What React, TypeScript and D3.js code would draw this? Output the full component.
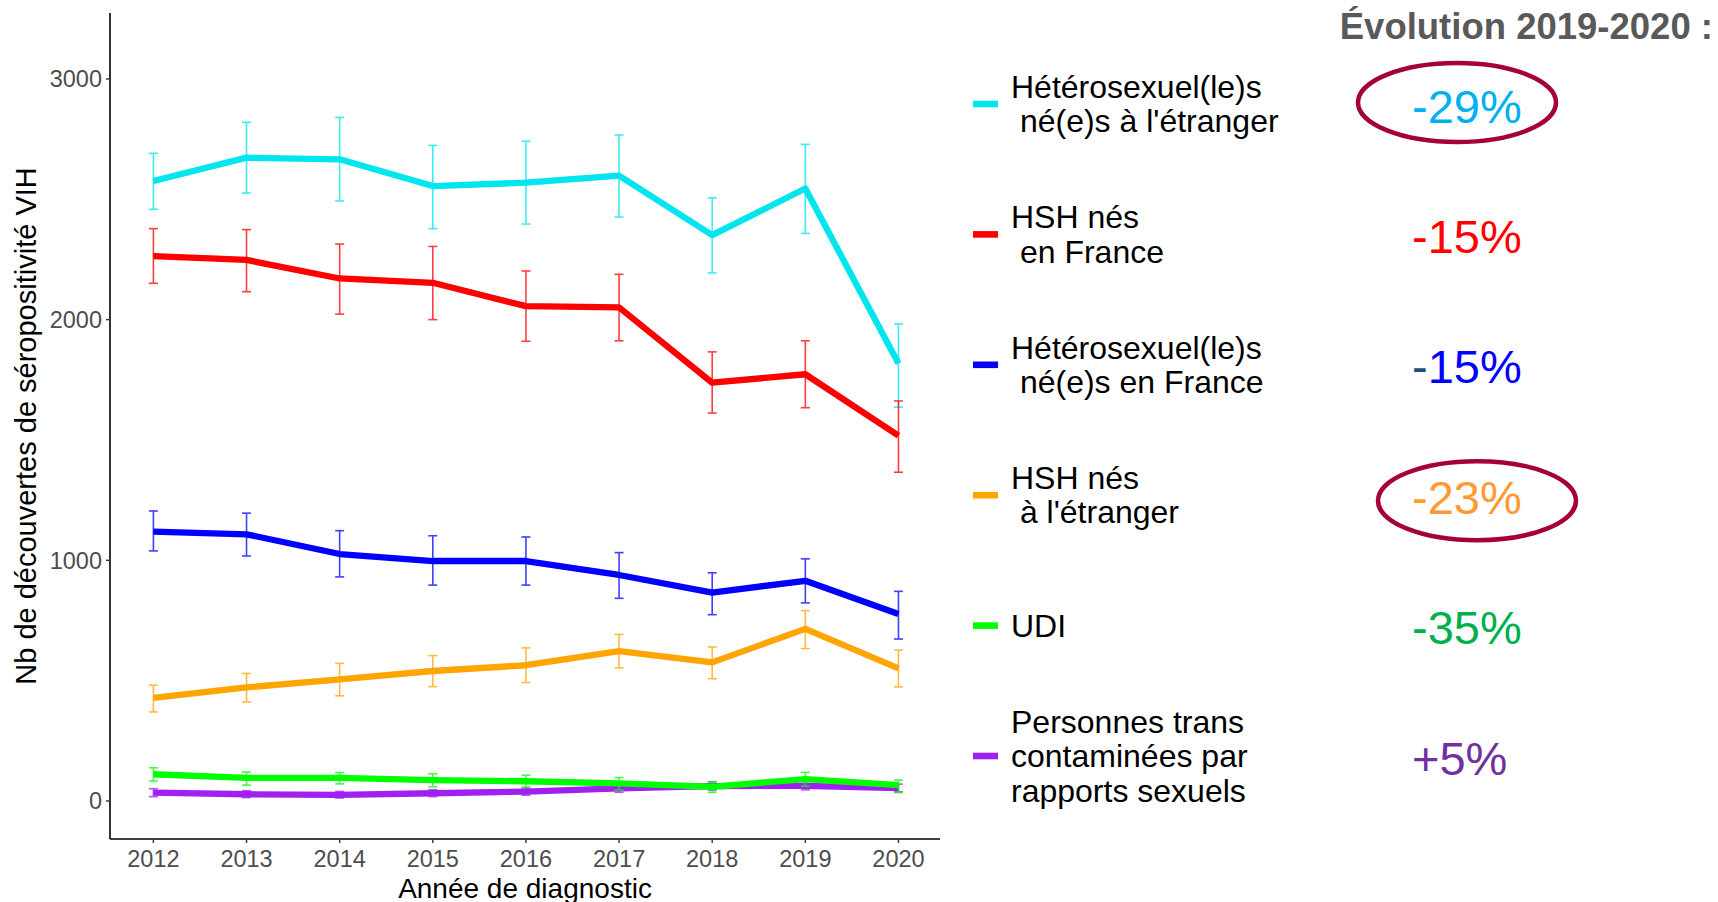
import React from "react";
import * as d3 from "d3";

// années de diagnostic
const years = [2012, 2013, 2014, 2015, 2016, 2017, 2018, 2019, 2020];

// nb de découvertes par groupe (valeur, borne basse, borne haute)
const heteroEtranger = [2576, 2673, 2666, 2555, 2569, 2598, 2351, 2545, 1818];
const heteroEtrangerLow = [2458, 2526, 2493, 2378, 2397, 2426, 2194, 2358, 1636];
const heteroEtrangerHigh = [2691, 2820, 2840, 2724, 2741, 2767, 2506, 2728, 1982];

const hshFrance = [2264, 2248, 2171, 2153, 2056, 2051, 1738, 1773, 1518];
const hshFranceLow = [2151, 2116, 2023, 2000, 1910, 1912, 1612, 1634, 1366];
const hshFranceHigh = [2378, 2374, 2314, 2304, 2202, 2188, 1866, 1912, 1662];

const heteroFrance = [1119, 1108, 1026, 997, 997, 939, 866, 915, 777];
const heteroFranceLow = [1039, 1018, 931, 897, 897, 842, 774, 823, 673];
const heteroFranceHigh = [1205, 1196, 1123, 1102, 1097, 1032, 948, 1006, 871];

const hshEtranger = [428, 472, 505, 540, 564, 623, 576, 715, 551];
const hshEtrangerLow = [370, 411, 437, 475, 492, 553, 508, 633, 474];
const hshEtrangerHigh = [481, 530, 572, 604, 636, 692, 640, 791, 627];

const udi = [111, 96, 96, 87, 82, 73, 59, 91, 66];
const udiLow = [83, 66, 71, 59, 57, 46, 36, 61, 35];
const udiHigh = [138, 120, 118, 113, 107, 97, 80, 119, 87];

const trans = [35, 28, 25, 32, 39, 52, 62, 63, 54];
const transLow = [18, 14, 12, 18, 24, 36, 45, 46, 38];
const transHigh = [51, 43, 40, 47, 55, 68, 80, 81, 70];

const yTicks = [0, 1000, 2000, 3000];

const legendLabels = [
  ["Hétérosexuel(le)s", " né(e)s à l'étranger"],
  ["HSH nés", " en France"],
  ["Hétérosexuel(le)s", " né(e)s en France"],
  ["HSH nés", " à l'étranger"],
  ["UDI"],
  ["Personnes trans", "contaminées par", "rapports sexuels"],
];
const lineColors = ["#00E5EE", "#FF0000", "#0000FF", "#FFA500", "#00FF00", "#A020F0"];
const evolution = ["-29%", "-15%", "-15%", "-23%", "-35%", "+5%"];
const evolutionColors = ["#00B0F0", "#FF0000", "#0000FF", "#FF9933", "#00B050", "#7030A0"];
const highlighted = [0, 3];

const series = [
  { v: heteroEtranger, lo: heteroEtrangerLow, hi: heteroEtrangerHigh, c: lineColors[0] },
  { v: hshFrance, lo: hshFranceLow, hi: hshFranceHigh, c: lineColors[1] },
  { v: heteroFrance, lo: heteroFranceLow, hi: heteroFranceHigh, c: lineColors[2] },
  { v: hshEtranger, lo: hshEtrangerLow, hi: hshEtrangerHigh, c: lineColors[3] },
  { v: trans, lo: transLow, hi: transHigh, c: lineColors[5] },
  { v: udi, lo: udiLow, hi: udiHigh, c: lineColors[4] },
];

const font = "'Liberation Sans', Arial, sans-serif";

export default function App() {
  const left = 110, right = 940, top = 13, bottom = 839;
  const x = d3.scaleLinear().domain([2011.534, 2020.446]).range([left, right]);
  const y = d3.scaleLinear().domain([-158, 3274]).range([bottom, top]);
  const line = d3.line<number>().x((d, i) => x(years[i])).y(d => y(d));
  const cap = 4.5;

  const keyY = d3.range(6).map(i => 104 + i * 130.4);

  return (
    <svg width={1718} height={902} style={{ position: "absolute", left: 0, top: 0, background: "#fff" }} fontFamily={font}>
      <rect width={1718} height={902} fill="#fff" />
      {/* séries */}
      {series.map((s, k) => (
        <g key={k}>
          <path d={line(s.v) || ""} fill="none" stroke={s.c} strokeWidth={6.3} strokeLinejoin="round" />
          <g stroke={s.c} strokeWidth={1.6} opacity={0.75}>
            {years.map((yr, i) => (
              <g key={yr}>
                <line x1={x(yr)} x2={x(yr)} y1={y(s.lo[i])} y2={y(s.hi[i])} />
                <line x1={x(yr) - cap} x2={x(yr) + cap} y1={y(s.lo[i])} y2={y(s.lo[i])} />
                <line x1={x(yr) - cap} x2={x(yr) + cap} y1={y(s.hi[i])} y2={y(s.hi[i])} />
              </g>
            ))}
          </g>
        </g>
      ))}

      {/* axes */}
      <line x1={left} x2={left} y1={top} y2={bottom} stroke="#000" strokeWidth={1.6} />
      <line x1={left} x2={right} y1={bottom} y2={bottom} stroke="#000" strokeWidth={1.6} />
      {yTicks.map(t => (
        <g key={t}>
          <line x1={left - 4} x2={left} y1={y(t)} y2={y(t)} stroke="#333" strokeWidth={1.4} />
          <text x={left - 8} y={y(t) + 8.5} textAnchor="end" fontSize={23.5} fill="#4D4D4D">{t}</text>
        </g>
      ))}
      {years.map(yr => (
        <g key={yr}>
          <line x1={x(yr)} x2={x(yr)} y1={bottom} y2={bottom + 4} stroke="#333" strokeWidth={1.4} />
          <text x={x(yr)} y={866.5} textAnchor="middle" fontSize={23.5} fill="#4D4D4D">{yr}</text>
        </g>
      ))}
      <text x={(left + right) / 2} y={897.5} textAnchor="middle" fontSize={28} fill="#000">Année de diagnostic</text>
      <text transform={`translate(36,${(top + bottom) / 2}) rotate(-90)`} textAnchor="middle" fontSize={29} fill="#000">
        Nb de découvertes de séropositivité VIH
      </text>

      {/* légende */}
      {legendLabels.map((lines, i) => (
        <g key={i}>
          <rect x={973} y={keyY[i] - 3.3} width={25} height={6.6} fill={lineColors[i]} />
          {lines.map((t, j) => (
            <text key={j} x={1011} y={keyY[i] + 11 + (j - (lines.length - 1) / 2) * 34.5}
              fontSize={32} fill="#000" style={{ whiteSpace: "pre" }}>{t}</text>
          ))}
        </g>
      ))}

      {/* évolution 2019-2020 */}
      <text x={1713} y={38.5} textAnchor="end" fontSize={36.5} fontWeight="bold" fill="#595959">Évolution 2019-2020 :</text>
      {evolution.map((t, i) => (
        <text key={i} x={1412} y={keyY[i] + 18.5} fontSize={47} fill={evolutionColors[i]}>
          {i === 2 ? <><tspan fill="#1F4E79">-</tspan>{t.slice(1)}</> : t}
        </text>
      ))}
      {highlighted.map((i, k) => (
        <ellipse key={i} cx={k === 0 ? 1457 : 1477} cy={keyY[i] + (k === 0 ? -1.5 : 5.5)} rx={99} ry={39.5}
          fill="none" stroke="#A50038" strokeWidth={4.5} />
      ))}
    </svg>
  );
}
